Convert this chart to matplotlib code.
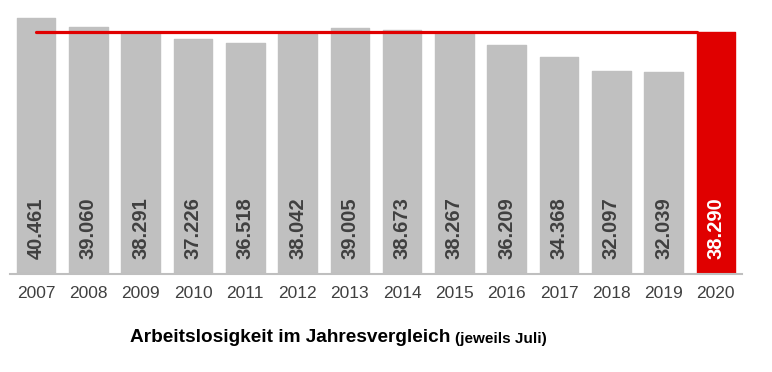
import matplotlib
matplotlib.use('Agg')
import matplotlib.pyplot as plt
import numpy as np

plt.rcParams['font.family'] = ['Liberation Sans', 'DejaVu Sans']

years = ['2007', '2008', '2009', '2010', '2011', '2012', '2013',
         '2014', '2015', '2016', '2017', '2018', '2019', '2020']
values = [40461, 39060, 38291, 37226, 36518, 38042, 39005,
          38673, 38267, 36209, 34368, 32097, 32039, 38290]
labels = ['40.461', '39.060', '38.291', '37.226', '36.518', '38.042', '39.005',
          '38.673', '38.267', '36.209', '34.368', '32.097', '32.039', '38.290']

grey = '#c0c0c0'
red = '#e00000'

fig = plt.figure(figsize=(7.72, 3.72), dpi=100)
ax = fig.add_axes([10 / 772, 98 / 372, 732 / 772, 265.4 / 372])

x = np.arange(len(years))
colors = [grey] * (len(years) - 1) + [red]
ax.bar(x, values, width=0.74, color=colors, edgecolor=colors,
       linewidth=1, joinstyle='round', zorder=2)

# reference line at the current value
ax.plot([x[0], x[-1] - 0.37], [values[-1], values[-1]], color=red,
        linewidth=2.3, solid_capstyle='round', zorder=3)

for i, lab in enumerate(labels):
    c = 'white' if i == len(labels) - 1 else '#404040'
    ax.text(x[i], 2400, lab, rotation=90, ha='center', va='bottom',
            fontsize=14.5, fontweight='bold', color=c, zorder=4)

ax.set_xlim(-0.5, 13.5)
ax.set_ylim(0, 42000)
ax.set_xticks(x)
ax.set_xticklabels(years, fontsize=12.5, color='#404040')
ax.tick_params(axis='x', length=0, pad=9)
ax.set_yticks([])
for s in ['top', 'right', 'left']:
    ax.spines[s].set_visible(False)
ax.spines['bottom'].set_color('#bfbfbf')
ax.spines['bottom'].set_linewidth(1.5)

fig.text(130 / 772, 34 / 372, 'Arbeitslosigkeit im Jahresvergleich',
         fontsize=13.7, fontweight='bold', color='black', va='center')
fig.text(455 / 772, 33 / 372, '(jeweils Juli)',
         fontsize=11, fontweight='bold', color='black', va='center')

fig.savefig('out.png', dpi=100)
